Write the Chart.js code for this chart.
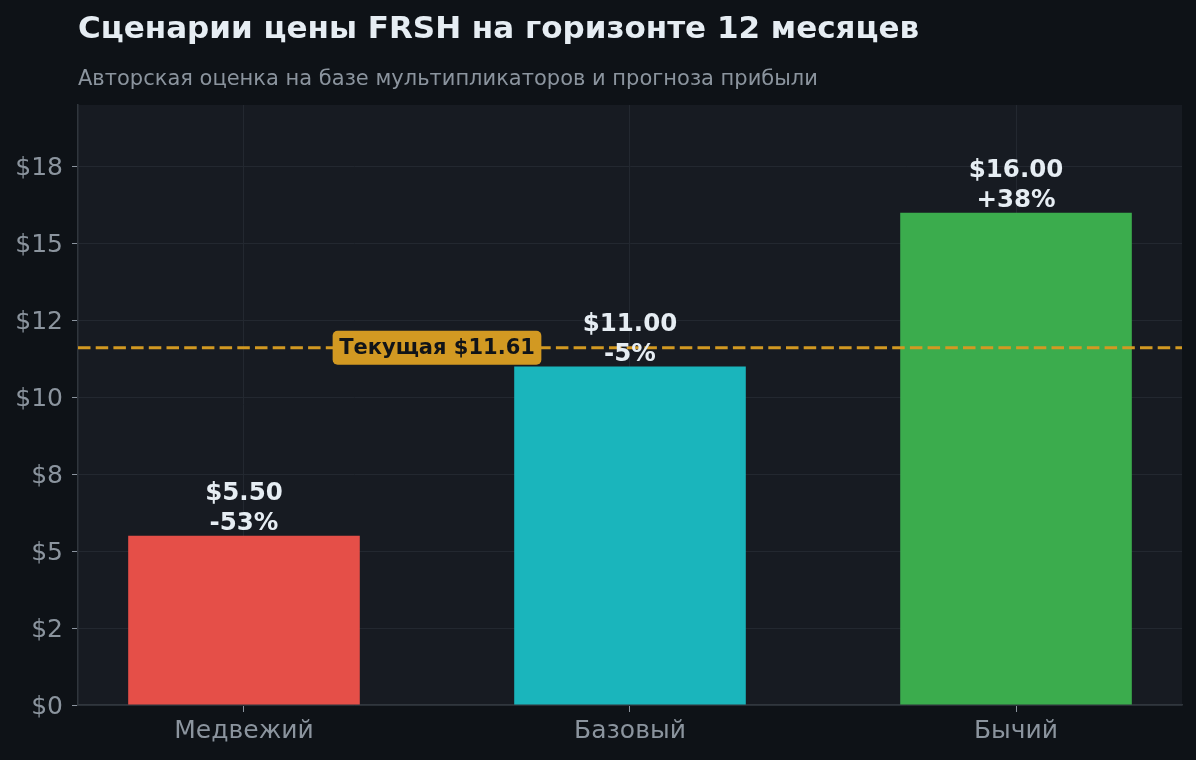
<!DOCTYPE html>
<html>
<head>
<meta charset="utf-8">
<script src="https://cdn.jsdelivr.net/npm/chart.js"></script>
<style>
  html, body { margin: 0; padding: 0; background: #0e1217; }
  #wrap { width: 1196px; height: 760px; position: relative; }
</style>
</head>
<body>
<div id="wrap"><canvas id="c"></canvas></div>
<script>
// данные
const categories = ['Медвежий', 'Базовый', 'Бычий'];
const targetPrices = [5.5, 11.0, 16.0];
const barColors = ['#e54f48', '#1ab5bc', '#3bac4d'];
const currentPrice = 11.61;
const currentLabelX = 0.5; // между первым и вторым сценарием
const yTickValues = [0, 2.5, 5, 7.5, 10, 12.5, 15, 17.5];
const yTickLabels = ['$0', '$2', '$5', '$8', '$10', '$12', '$15', '$18'];

const FONT = '"DejaVu Sans", "Noto Sans", sans-serif';
const GOLD = '#d29922';

// фон, заголовок, подзаголовок
const backdrop = {
  id: 'backdrop',
  beforeDraw(chart) {
    const { ctx, chartArea: a } = chart;
    ctx.save();
    ctx.fillStyle = '#0e1217';
    ctx.fillRect(0, 0, chart.width, chart.height);
    ctx.fillStyle = '#171b22';
    ctx.fillRect(a.left, a.top, a.right - a.left, a.bottom - a.top);
    ctx.textAlign = 'left';
    ctx.textBaseline = 'alphabetic';
    ctx.fillStyle = '#e6edf3';
    ctx.font = 'bold 31px ' + FONT;
    ctx.fillText('Сценарии цены FRSH на горизонте 12 месяцев', a.left, 38);
    ctx.fillStyle = '#8b949e';
    ctx.font = '21px ' + FONT;
    ctx.fillText('Авторская оценка на базе мультипликаторов и прогноза прибыли', a.left, 85);
    ctx.restore();
  }
};

// линия текущей цены и подписи над столбцами
const overlays = {
  id: 'overlays',
  afterDatasetsDraw(chart) {
    const { ctx, chartArea: a, scales } = chart;
    const y = scales.y.getPixelForValue(currentPrice);
    ctx.save();
    ctx.strokeStyle = GOLD;
    ctx.lineWidth = 2.8;
    ctx.setLineDash([12.5, 5.2]);
    ctx.beginPath();
    ctx.moveTo(a.left, y);
    ctx.lineTo(a.right, y);
    ctx.stroke();
    ctx.setLineDash([]);

    // плашка
    const txt = 'Текущая $' + currentPrice.toFixed(2);
    ctx.font = 'bold 21px ' + FONT;
    const w = ctx.measureText(txt).width + 13;
    const h = 34;
    const cx = scales.x.getPixelForValue(currentLabelX);
    ctx.fillStyle = GOLD;
    ctx.beginPath();
    ctx.roundRect(cx - w / 2, y - h / 2, w, h, 5);
    ctx.fill();
    ctx.fillStyle = '#111418';
    ctx.textAlign = 'center';
    ctx.textBaseline = 'middle';
    ctx.fillText(txt, cx, y + 1);

    // подписи столбцов
    const meta = chart.getDatasetMeta(0);
    ctx.fillStyle = '#e6edf3';
    ctx.font = 'bold 24.5px ' + FONT;
    ctx.textBaseline = 'alphabetic';
    meta.data.forEach((bar, i) => {
      const v = targetPrices[i];
      const pct = Math.round((v / currentPrice - 1) * 100);
      const pctTxt = (pct > 0 ? '+' : '') + pct + '%';
      ctx.fillText('$' + v.toFixed(2), bar.x, bar.y - 36);
      ctx.fillText(pctTxt, bar.x, bar.y - 6);
    });
    ctx.restore();
  }
};

new Chart(document.getElementById('c'), {
  type: 'bar',
  data: {
    datasets: [{
      data: targetPrices.map((v, i) => ({ x: i, y: v })),
      backgroundColor: barColors,
      borderWidth: 0,
      categoryPercentage: 1,
      barPercentage: 0.6
    }]
  },
  options: {
    responsive: true,
    maintainAspectRatio: false,
    animation: false,
    layout: { padding: { top: 105, right: 14, left: 0, bottom: 0 } },
    plugins: {
      legend: { display: false },
      tooltip: { enabled: false },
      title: { display: false }
    },
    scales: {
      x: {
        type: 'linear',
        min: -0.43,
        max: 2.43,
        offset: false,
        afterBuildTicks(scale) {
          scale.ticks = categories.map((_, i) => ({ value: i }));
        },
        afterFit(scale) { scale.height = 55; },
        grid: {
          offset: false,
          color: '#232830',
          lineWidth: 1,
          tickLength: 7,
          tickColor: '#8b949e'
        },
        border: { color: '#30363d', width: 1.5 },
        ticks: {
          color: '#8b949e',
          font: { family: FONT, size: 25 },
          padding: 4,
          maxRotation: 0,
          callback: (v) => categories[v]
        }
      },
      y: {
        min: 0,
        max: 19.5,
        afterBuildTicks(scale) {
          scale.ticks = yTickValues.map(v => ({ value: v }));
        },
        afterFit(scale) { scale.width = 78; },
        grid: {
          color: '#232830',
          lineWidth: 1,
          tickLength: 6,
          tickColor: '#8b949e'
        },
        border: { color: '#30363d', width: 1.5 },
        ticks: {
          color: '#8b949e',
          font: { family: FONT, size: 25 },
          padding: 9,
          labelOffset: 2,
          callback: (v) => yTickLabels[yTickValues.indexOf(v)]
        }
      }
    }
  },
  plugins: [backdrop, overlays]
});
</script>
</body>
</html>
